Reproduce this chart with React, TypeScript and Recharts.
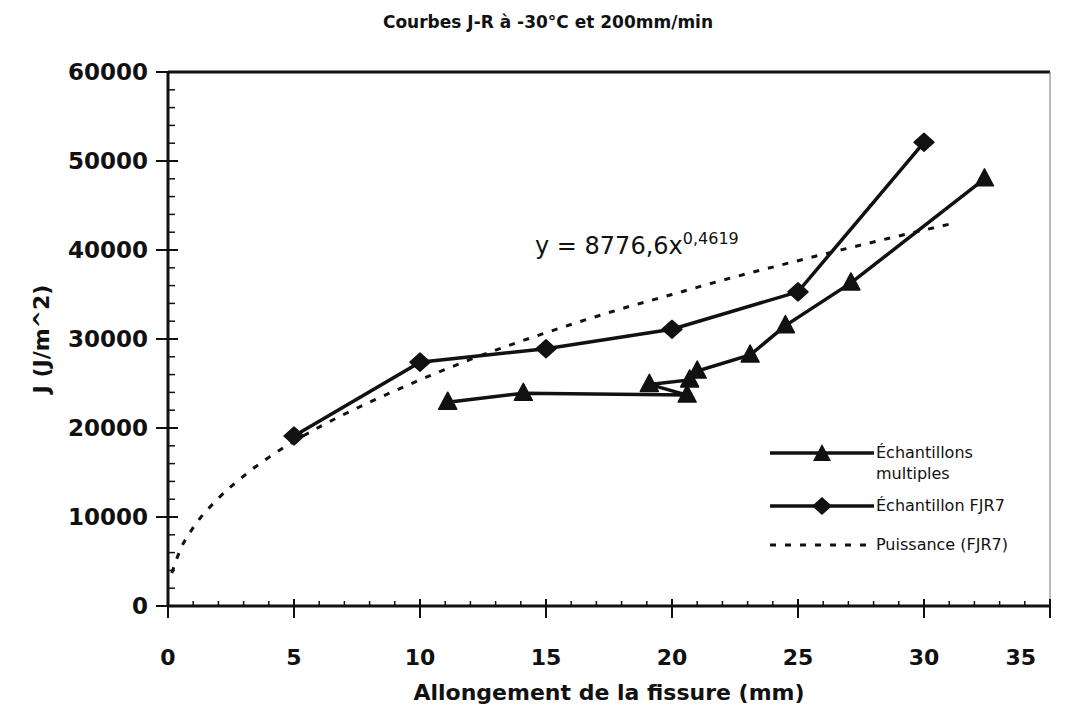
import React from "react";
import { ComposedChart, Line, XAxis, YAxis, Legend, ReferenceLine } from "recharts";

const FONT = "'DejaVu Sans', sans-serif";
const INK = "#111";

// Échantillons multiples (order as plotted in the source)
const multiX = [11.1, 14.1, 20.6, 19.1, 20.7, 21.0, 23.1, 24.5, 27.1, 32.4];
const multiJ = [22900, 23900, 23700, 24900, 25400, 26400, 28200, 31500, 36300, 48000];

// Échantillon FJR7
const fjr7X = [5, 10, 15, 20, 25, 30];
const fjr7J = [19100, 27400, 28900, 31100, 35300, 52100];

// Puissance (FJR7)
const trendX = [0.15, 0.5, 1, 2, 3, 4, 5, 6, 8, 10, 12, 15, 18, 20, 22, 25, 28, 31];
const trendJ = [3700, 6400, 8800, 12100, 14600, 16700, 18500, 20100, 22900, 25400, 27700, 30700, 33400, 35000, 36600, 38800, 40900, 42900];

const xMax = 35;
const xMajorStep = 5;
const yMajorStep = 10000;
const xTicks = Array.from({ length: 36 }, (_, i) => i);
const yTicks = Array.from({ length: 31 }, (_, i) => i * 2000);

const multiData = multiX.map((x, i) => ({ x, j: multiJ[i] }));
const fjr7Data = fjr7X.map((x, i) => ({ x, j: fjr7J[i] }));
const trendData = trendX.map((x, i) => ({ x, j: trendJ[i] }));

const triPath = (cx: number, cy: number) => `M${cx},${cy - 10} L${cx + 9},${cy + 7} L${cx - 9},${cy + 7} Z`;
const diaPath = (cx: number, cy: number) => `M${cx},${cy - 9} L${cx + 10},${cy} L${cx},${cy + 9} L${cx - 10},${cy} Z`;

const TriangleDot = (props: any) => {
  const { cx, cy, index } = props;
  if (cx == null || cy == null) return null;
  return <path key={`t${index}`} d={triPath(cx, cy)} fill={INK} stroke={INK} strokeWidth={1.5} strokeLinejoin="round" />;
};

const DiamondDot = (props: any) => {
  const { cx, cy, index } = props;
  if (cx == null || cy == null) return null;
  return <path key={`d${index}`} d={diaPath(cx, cy)} fill={INK} stroke={INK} strokeWidth={1.5} strokeLinejoin="round" />;
};

const XTick = (props: any) => {
  const { x, y, payload } = props;
  const major = payload.value % xMajorStep === 0;
  // the last label is pulled inside the frame, as in the source
  const last = payload.value === xMax;
  return (
    <g>
      {major ? (
        <line x1={x} x2={x} y1={y - 7} y2={y + 12} stroke={INK} strokeWidth={2} />
      ) : (
        <line x1={x} x2={x} y1={y - 5} y2={y} stroke={INK} strokeWidth={1.5} />
      )}
      {major && (
        <text x={last ? x - 14 : x} y={y + 59} textAnchor={last ? "end" : "middle"} fontFamily={FONT} fontWeight="bold" fontSize={22} fill={INK}>
          {payload.value}
        </text>
      )}
    </g>
  );
};

const YTick = (props: any) => {
  const { x, y, payload } = props;
  const major = payload.value % yMajorStep === 0;
  return (
    <g>
      {major ? (
        <line x1={x - 12} x2={x + 10} y1={y} y2={y} stroke={INK} strokeWidth={2} />
      ) : (
        <line x1={x} x2={x + 7} y1={y} y2={y} stroke={INK} strokeWidth={1.5} />
      )}
      {major && (
        <text x={x - 20} y={y} dy="0.36em" textAnchor="end" fontFamily={FONT} fontWeight="bold" fontSize={23} fill={INK}>
          {payload.value}
        </text>
      )}
    </g>
  );
};

const YTitle = (props: any) => {
  const { viewBox } = props;
  const cx = viewBox.x + 13;
  const cy = viewBox.y + viewBox.height / 2;
  return (
    <text x={cx} y={cy} transform={`rotate(-90 ${cx} ${cy})`} textAnchor="middle" dy="0.36em" fontFamily={FONT} fontWeight="bold" fontSize={22} fill={INK}>
      J (J/m^2)
    </text>
  );
};

const LegendBox = () => {
  const row = (top: number, children: React.ReactNode) => (
    <div style={{ position: "absolute", left: 0, top, height: 24, width: 300 }}>{children}</div>
  );
  const txt: React.CSSProperties = { position: "absolute", left: 116, fontSize: 16, lineHeight: "24px", whiteSpace: "nowrap" };
  return (
    <div style={{ position: "relative", width: 300, height: 120, fontFamily: FONT, color: INK }}>
      {row(0, (
        <>
          <svg width={116} height={24} style={{ position: "absolute", left: 0, top: 0 }}>
            <line x1={10} x2={114} y1={12} y2={12} stroke={INK} strokeWidth={3.5} />
            <path d={triPath(62, 13)} fill={INK} />
          </svg>
          <span style={{ ...txt, top: 0 }}>Échantillons</span>
          <span style={{ ...txt, top: 21 }}>multiples</span>
        </>
      ))}
      {row(53, (
        <>
          <svg width={116} height={24} style={{ position: "absolute", left: 0, top: 0 }}>
            <line x1={10} x2={114} y1={12} y2={12} stroke={INK} strokeWidth={3.5} />
            <path d={diaPath(62, 12)} fill={INK} />
          </svg>
          <span style={{ ...txt, top: 0 }}>Échantillon FJR7</span>
        </>
      ))}
      {row(92, (
        <>
          <svg width={116} height={24} style={{ position: "absolute", left: 0, top: 0 }}>
            <line x1={10} x2={110} y1={12} y2={12} stroke={INK} strokeWidth={3} strokeDasharray="6 9" />
          </svg>
          <span style={{ ...txt, top: 0 }}>Puissance (FJR7)</span>
        </>
      ))}
    </div>
  );
};

export default function App() {
  return (
    <div style={{ position: "relative", width: 1054, height: 700, background: "#fff" }}>
      <div style={{ position: "absolute", left: 240, top: 4, width: 600, textAlign: "center", fontFamily: FONT, fontWeight: "bold", fontSize: 17, lineHeight: "20px", color: INK }}>
        Courbes J-R à -30°C et 200mm/min
      </div>
      <ComposedChart width={1054} height={700} margin={{ top: 64, right: 12, bottom: 2, left: 20 }}>
        <XAxis
          type="number"
          dataKey="x"
          domain={[0, xMax]}
          ticks={xTicks}
          interval={0}
          tickSize={0}
          tickMargin={0}
          tickLine={false}
          tick={<XTick />}
          axisLine={{ stroke: INK, strokeWidth: 3 }}
          height={100}
          allowDuplicatedCategory={false}
          label={{ value: "Allongement de la fissure (mm)", position: "insideBottom", offset: 6, fontFamily: FONT, fontWeight: "bold", fontSize: 22, fill: INK }}
        />
        <YAxis
          type="number"
          domain={[0, 60000]}
          ticks={yTicks}
          interval={0}
          tickSize={0}
          tickMargin={0}
          tickLine={false}
          tick={<YTick />}
          axisLine={{ stroke: INK, strokeWidth: 3 }}
          width={140}
          label={<YTitle />}
        />
        <ReferenceLine y={60000} stroke={INK} strokeWidth={3} />
        <ReferenceLine x={xMax} stroke="#777" strokeWidth={1} />
        <Line
          data={trendData}
          dataKey="j"
          type="monotone"
          stroke={INK}
          strokeWidth={3}
          strokeDasharray="6 9"
          dot={false}
          activeDot={false}
          isAnimationActive={false}
          legendType="none"
        />
        <Line
          data={fjr7Data}
          dataKey="j"
          type="linear"
          stroke={INK}
          strokeWidth={3.5}
          dot={<DiamondDot />}
          activeDot={false}
          isAnimationActive={false}
        />
        <Line
          data={multiData}
          dataKey="j"
          type="linear"
          stroke={INK}
          strokeWidth={3.5}
          dot={<TriangleDot />}
          activeDot={false}
          isAnimationActive={false}
        />
        <Legend
          layout="vertical"
          align="center"
          verticalAlign="middle"
          content={<LegendBox />}
          wrapperStyle={{ left: 752, top: 433, width: 300, height: 120 }}
        />
      </ComposedChart>
      <div style={{ position: "absolute", left: 527, top: 218, fontFamily: FONT, fontSize: 24, lineHeight: "26px", color: INK, whiteSpace: "nowrap" }}>
        y = 8776,6x<sup style={{ fontSize: 16, verticalAlign: "10px" }}>0,4619</sup>
      </div>
    </div>
  );
}
